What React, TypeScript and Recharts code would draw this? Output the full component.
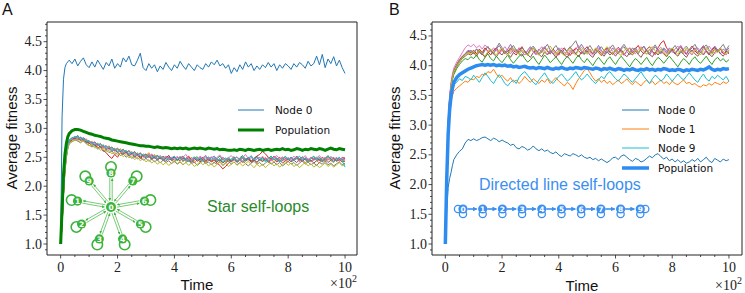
import { LineChart, Line, XAxis, YAxis, ReferenceArea } from "recharts";

// time in units of 10^2
const TIME = [
  0, 0.05, 0.1, 0.15, 0.2, 0.25, 0.3,
  0.4, 0.5, 0.6, 0.7, 0.8, 0.9,
  1.0, 1.1, 1.2, 1.3, 1.4, 1.5, 1.6, 1.7, 1.8, 1.9,
  2.0, 2.1, 2.2, 2.3, 2.4, 2.5, 2.6, 2.7, 2.8, 2.9,
  3.0, 3.1, 3.2, 3.3, 3.4, 3.5, 3.6, 3.7, 3.8, 3.9,
  4.0, 4.1, 4.2, 4.3, 4.4, 4.5, 4.6, 4.7, 4.8, 4.9,
  5.0, 5.1, 5.2, 5.3, 5.4, 5.5, 5.6, 5.7, 5.8, 5.9,
  6.0, 6.1, 6.2, 6.3, 6.4, 6.5, 6.6, 6.7, 6.8, 6.9,
  7.0, 7.1, 7.2, 7.3, 7.4, 7.5, 7.6, 7.7, 7.8, 7.9,
  8.0, 8.1, 8.2, 8.3, 8.4, 8.5, 8.6, 8.7, 8.8, 8.9,
  9.0, 9.1, 9.2, 9.3, 9.4, 9.5, 9.6, 9.7, 9.8, 9.9,
  10.0,
];

const X_TICKS = [0, 0.5, 1, 1.5, 2, 2.5, 3, 3.5, 4, 4.5, 5, 5.5, 6, 6.5, 7, 7.5, 8, 8.5, 9, 9.5, 10];
const Y_TICKS_A = [0.9, 1.0, 1.1, 1.2, 1.3, 1.4, 1.5, 1.6, 1.7, 1.8, 1.9, 2.0, 2.1, 2.2, 2.3, 2.4, 2.5, 2.6, 2.7, 2.8, 2.9, 3.0, 3.1, 3.2, 3.3, 3.4, 3.5, 3.6, 3.7, 3.8, 3.9, 4.0, 4.1, 4.2, 4.3, 4.4, 4.5, 4.6, 4.7, 4.8];
const Y_TICKS_B = [0.9, 1.0, 1.1, 1.2, 1.3, 1.4, 1.5, 1.6, 1.7, 1.8, 1.9, 2.0, 2.1, 2.2, 2.3, 2.4, 2.5, 2.6, 2.7, 2.8, 2.9, 3.0, 3.1, 3.2, 3.3, 3.4, 3.5, 3.6, 3.7, 3.8, 3.9, 4.0, 4.1, 4.2, 4.3, 4.4, 4.5, 4.6, 4.7];

// ---- panel A: star with self-loops ----
const A_NODE0 = [
  1.0, 3.2, 3.85, 4.05, 4.12, 4.15, 4.18,
  4.12, 4.2, 4.08, 4.16, 4.22, 4.1,
  4.05, 4.15, 4.06, 4.18, 4.1, 4.02, 4.14, 4.08, 4.2, 4.04,
  4.12, 4.06, 4.22, 4.15, 4.25, 4.1, 4.08, 4.18, 4.3, 4.05,
  4.0, 4.12, 4.04, 4.1, 3.98, 4.08, 4.02, 4.14, 4.06, 4.0,
  4.1, 4.04, 4.16, 4.08, 4.02, 4.12, 4.06, 4.0, 4.1, 4.05,
  4.02, 4.12, 4.06, 4.15, 4.1, 4.18, 4.08, 4.12, 4.04, 4.1,
  3.95, 4.05, 3.98, 4.1, 4.02, 4.15, 4.06, 4.12, 4.0, 4.08,
  4.02, 4.1, 4.05, 4.14, 4.06, 4.12, 4.0, 4.1, 4.04, 4.12,
  4.08, 4.02, 4.12, 4.06, 4.14, 4.1, 4.04, 4.16, 4.08, 4.12,
  4.25, 4.1, 4.28, 4.05, 4.2, 4.12, 4.24, 4.08, 4.18, 4.05,
  3.95,
];
const A_NODE1 = [
  1.0, 1.3, 1.85, 2.25, 2.5, 2.66, 2.75,
  2.8, 2.86, 2.8, 2.84, 2.78, 2.82,
  2.74, 2.78, 2.7, 2.75, 2.68, 2.72, 2.64, 2.7, 2.62, 2.66,
  2.6, 2.65, 2.58, 2.62, 2.55, 2.6, 2.54, 2.58, 2.5, 2.56,
  2.52, 2.58, 2.5, 2.55, 2.48, 2.53, 2.46, 2.52, 2.49, 2.44,
  2.5, 2.45, 2.52, 2.42, 2.48, 2.44, 2.5, 2.4, 2.46, 2.43,
  2.48, 2.42, 2.5, 2.45, 2.4, 2.47, 2.43, 2.49, 2.41, 2.46,
  2.44, 2.5, 2.42, 2.47, 2.4, 2.45, 2.49, 2.42, 2.46, 2.4,
  2.47, 2.42, 2.5, 2.44, 2.48, 2.41, 2.46, 2.43, 2.5, 2.44,
  2.42, 2.48, 2.44, 2.5, 2.43, 2.47, 2.4, 2.46, 2.42, 2.49,
  2.44, 2.4, 2.47, 2.42, 2.5, 2.44, 2.41, 2.48, 2.43, 2.46,
  2.42,
];
const A_NODE2 = [
  1.0, 1.38, 1.95, 2.35, 2.58, 2.72, 2.8,
  2.84, 2.82, 2.88, 2.8, 2.83, 2.76,
  2.79, 2.72, 2.76, 2.7, 2.74, 2.66, 2.7, 2.64, 2.68, 2.62,
  2.66, 2.6, 2.64, 2.57, 2.62, 2.56, 2.6, 2.53, 2.58, 2.52,
  2.56, 2.5, 2.55, 2.49, 2.54, 2.47, 2.52, 2.48, 2.53, 2.46,
  2.5, 2.44, 2.49, 2.52, 2.45, 2.5, 2.43, 2.48, 2.51, 2.45,
  2.49, 2.53, 2.46, 2.5, 2.44, 2.48, 2.52, 2.45, 2.49, 2.43,
  2.47, 2.51, 2.44, 2.49, 2.53, 2.46, 2.5, 2.43, 2.48, 2.52,
  2.45, 2.5, 2.44, 2.48, 2.52, 2.46, 2.49, 2.43, 2.47, 2.51,
  2.46, 2.5, 2.44, 2.49, 2.45, 2.51, 2.47, 2.43, 2.48, 2.52,
  2.46, 2.5, 2.44, 2.48, 2.53, 2.46, 2.5, 2.44, 2.49, 2.45,
  2.47,
];
const A_NODE3 = [
  1.0, 1.32, 1.88, 2.28, 2.53, 2.68, 2.77,
  2.81, 2.83, 2.8, 2.85, 2.79, 2.77,
  2.75, 2.7, 2.73, 2.66, 2.69, 2.62, 2.58, 2.52, 2.48, 2.55,
  2.5, 2.58, 2.55, 2.6, 2.52, 2.56, 2.5, 2.54, 2.48, 2.52,
  2.5, 2.55, 2.47, 2.52, 2.46, 2.5, 2.44, 2.49, 2.53, 2.47,
  2.51, 2.46, 2.5, 2.44, 2.48, 2.52, 2.45, 2.49, 2.43, 2.47,
  2.5, 2.44, 2.48, 2.42, 2.46, 2.4, 2.36, 2.3, 2.34, 2.4,
  2.44, 2.48, 2.42, 2.47, 2.5, 2.45, 2.49, 2.43, 2.48, 2.52,
  2.55, 2.6, 2.56, 2.5, 2.47, 2.52, 2.46, 2.5, 2.44, 2.48,
  2.45, 2.5, 2.46, 2.52, 2.47, 2.43, 2.49, 2.45, 2.5, 2.46,
  2.48, 2.44, 2.5, 2.46, 2.52, 2.47, 2.43, 2.49, 2.45, 2.5,
  2.48,
];
const A_NODE4 = [
  1.0, 1.36, 1.92, 2.32, 2.56, 2.71, 2.79,
  2.83, 2.85, 2.86, 2.81, 2.84, 2.8,
  2.78, 2.74, 2.77, 2.71, 2.73, 2.67, 2.7, 2.65, 2.67, 2.61,
  2.64, 2.6, 2.63, 2.58, 2.61, 2.55, 2.59, 2.54, 2.57, 2.52,
  2.55, 2.5, 2.53, 2.48, 2.52, 2.47, 2.51, 2.46, 2.5, 2.48,
  2.45, 2.5, 2.47, 2.52, 2.46, 2.49, 2.43, 2.48, 2.45, 2.5,
  2.46, 2.51, 2.45, 2.49, 2.52, 2.47, 2.44, 2.5, 2.46, 2.48,
  2.43, 2.47, 2.51, 2.46, 2.42, 2.48, 2.45, 2.5, 2.44, 2.47,
  2.5, 2.45, 2.48, 2.43, 2.47, 2.51, 2.46, 2.42, 2.48, 2.45,
  2.49, 2.44, 2.47, 2.52, 2.46, 2.5, 2.45, 2.48, 2.43, 2.47,
  2.5, 2.46, 2.43, 2.48, 2.45, 2.51, 2.47, 2.44, 2.49, 2.46,
  2.5,
];
const A_NODE5 = [
  1.0, 1.33, 1.87, 2.27, 2.52, 2.67, 2.76,
  2.8, 2.82, 2.83, 2.79, 2.81, 2.76,
  2.74, 2.76, 2.7, 2.72, 2.67, 2.69, 2.63, 2.66, 2.6, 2.63,
  2.58, 2.61, 2.56, 2.59, 2.53, 2.57, 2.51, 2.55, 2.5, 2.53,
  2.48, 2.52, 2.46, 2.5, 2.45, 2.49, 2.47, 2.43, 2.48, 2.45,
  2.42, 2.47, 2.44, 2.49, 2.43, 2.46, 2.41, 2.45, 2.48, 2.42,
  2.46, 2.41, 2.45, 2.43, 2.48, 2.42, 2.46, 2.4, 2.44, 2.47,
  2.42, 2.46, 2.41, 2.45, 2.48, 2.43, 2.47, 2.41, 2.45, 2.42,
  2.46, 2.43, 2.47, 2.41, 2.45, 2.48, 2.42, 2.46, 2.4, 2.44,
  2.47, 2.42, 2.45, 2.41, 2.46, 2.43, 2.48, 2.42, 2.45, 2.4,
  2.44, 2.47, 2.42, 2.46, 2.41, 2.45, 2.48, 2.43, 2.46, 2.42,
  2.44,
];
const A_NODE6 = [
  1.0, 1.34, 1.9, 2.31, 2.55, 2.7, 2.78,
  2.82, 2.8, 2.85, 2.83, 2.78, 2.81,
  2.76, 2.73, 2.75, 2.69, 2.72, 2.66, 2.68, 2.63, 2.66, 2.6,
  2.63, 2.58, 2.61, 2.56, 2.6, 2.54, 2.57, 2.52, 2.56, 2.5,
  2.53, 2.49, 2.56, 2.51, 2.47, 2.53, 2.48, 2.52, 2.46, 2.5,
  2.47, 2.52, 2.46, 2.5, 2.55, 2.48, 2.44, 2.5, 2.46, 2.52,
  2.48, 2.53, 2.47, 2.51, 2.45, 2.5, 2.54, 2.47, 2.43, 2.49,
  2.53, 2.47, 2.5, 2.44, 2.49, 2.55, 2.48, 2.52, 2.46, 2.5,
  2.47, 2.52, 2.46, 2.5, 2.44, 2.49, 2.53, 2.47, 2.51, 2.45,
  2.5, 2.46, 2.52, 2.47, 2.42, 2.48, 2.53, 2.46, 2.5, 2.44,
  2.49, 2.53, 2.47, 2.5, 2.45, 2.51, 2.46, 2.5, 2.44, 2.48,
  2.46,
];
const A_NODE7 = [
  1.0, 1.3, 1.84, 2.24, 2.49, 2.64, 2.73,
  2.77, 2.8, 2.78, 2.75, 2.79, 2.74,
  2.71, 2.68, 2.7, 2.64, 2.67, 2.6, 2.63, 2.58, 2.61, 2.55,
  2.58, 2.53, 2.56, 2.5, 2.54, 2.48, 2.52, 2.47, 2.5, 2.45,
  2.48, 2.43, 2.47, 2.42, 2.46, 2.4, 2.45, 2.41, 2.44, 2.39,
  2.43, 2.38, 2.42, 2.37, 2.41, 2.44, 2.39, 2.42, 2.36, 2.4,
  2.44, 2.39, 2.42, 2.37, 2.41, 2.38, 2.43, 2.36, 2.4, 2.44,
  2.38, 2.42, 2.37, 2.41, 2.44, 2.39, 2.35, 2.4, 2.43, 2.38,
  2.41, 2.36, 2.4, 2.44, 2.38, 2.42, 2.37, 2.41, 2.35, 2.39,
  2.43, 2.38, 2.41, 2.36, 2.4, 2.44, 2.38, 2.42, 2.37, 2.4,
  2.36, 2.41, 2.38, 2.43, 2.37, 2.4, 2.35, 2.39, 2.42, 2.37,
  2.4,
];
const A_NODE8 = [
  1.0, 1.31, 1.86, 2.26, 2.5, 2.65, 2.74,
  2.78, 2.79, 2.81, 2.76, 2.78, 2.73,
  2.7, 2.72, 2.66, 2.68, 2.62, 2.65, 2.59, 2.62, 2.56, 2.59,
  2.54, 2.57, 2.51, 2.55, 2.49, 2.52, 2.46, 2.5, 2.44, 2.48,
  2.42, 2.46, 2.4, 2.44, 2.38, 2.42, 2.37, 2.41, 2.36, 2.4,
  2.44, 2.39, 2.43, 2.37, 2.41, 2.36, 2.4, 2.34, 2.38, 2.42,
  2.37, 2.41, 2.35, 2.39, 2.33, 2.38, 2.42, 2.36, 2.4, 2.34,
  2.38, 2.42, 2.36, 2.4, 2.35, 2.39, 2.43, 2.37, 2.32, 2.38,
  2.34, 2.38, 2.32, 2.37, 2.41, 2.35, 2.39, 2.33, 2.37, 2.41,
  2.36, 2.4, 2.34, 2.38, 2.32, 2.37, 2.41, 2.35, 2.39, 2.33,
  2.37, 2.32, 2.36, 2.4, 2.34, 2.38, 2.33, 2.37, 2.41, 2.35,
  2.38,
];
const A_NODE9 = [
  1.0, 1.37, 1.93, 2.33, 2.57, 2.71, 2.79,
  2.83, 2.86, 2.83, 2.85, 2.81, 2.79,
  2.77, 2.75, 2.72, 2.74, 2.69, 2.71, 2.65, 2.68, 2.62, 2.65,
  2.6, 2.63, 2.58, 2.62, 2.55, 2.59, 2.53, 2.57, 2.52, 2.55,
  2.5, 2.54, 2.49, 2.53, 2.47, 2.51, 2.46, 2.5, 2.45, 2.49,
  2.52, 2.46, 2.5, 2.44, 2.48, 2.42, 2.47, 2.51, 2.45, 2.49,
  2.43, 2.47, 2.51, 2.45, 2.5, 2.44, 2.48, 2.42, 2.46, 2.5,
  2.45, 2.49, 2.43, 2.47, 2.51, 2.44, 2.48, 2.53, 2.46, 2.5,
  2.44, 2.48, 2.42, 2.47, 2.51, 2.45, 2.49, 2.43, 2.47, 2.52,
  2.46, 2.5, 2.44, 2.48, 2.52, 2.45, 2.49, 2.43, 2.47, 2.51,
  2.45, 2.49, 2.43, 2.48, 2.52, 2.46, 2.42, 2.47, 2.5, 2.44,
  2.33,
];
const A_POP = [
  1.0, 1.6, 2.2, 2.55, 2.74, 2.85, 2.91,
  2.96, 2.98, 2.98, 2.97, 2.95, 2.93,
  2.91, 2.9, 2.88, 2.87, 2.86, 2.84, 2.83, 2.82, 2.8, 2.79,
  2.78, 2.77, 2.76, 2.75, 2.74, 2.73, 2.72, 2.71, 2.7, 2.7,
  2.69, 2.69, 2.68, 2.67, 2.68, 2.67, 2.66, 2.67, 2.66, 2.65,
  2.66, 2.65, 2.66, 2.65, 2.66, 2.64, 2.65, 2.66, 2.65, 2.66,
  2.65, 2.64, 2.66, 2.65, 2.64, 2.65, 2.63, 2.64, 2.63, 2.62,
  2.62, 2.63, 2.62, 2.64, 2.63, 2.62, 2.64, 2.63, 2.62, 2.63,
  2.64, 2.62, 2.63, 2.64, 2.62, 2.63, 2.64, 2.63, 2.65, 2.63,
  2.64, 2.62, 2.63, 2.65, 2.64, 2.62, 2.64, 2.63, 2.65, 2.64,
  2.63, 2.65, 2.64, 2.62, 2.64, 2.66, 2.64, 2.63, 2.65, 2.64,
  2.63,
];

// ---- panel B: directed line with self-loops ----
const B_NODE0 = [
  1.0, 1.6, 1.95, 2.1, 2.2, 2.32, 2.42,
  2.5, 2.56, 2.6, 2.7, 2.76, 2.74,
  2.77, 2.74, 2.76, 2.79, 2.8, 2.77, 2.74, 2.78, 2.76, 2.72,
  2.75, 2.72, 2.7, 2.66, 2.68, 2.62, 2.6, 2.64, 2.62, 2.58,
  2.6, 2.65, 2.6, 2.57, 2.6, 2.56, 2.58, 2.54, 2.52, 2.55,
  2.5, 2.47, 2.52, 2.5, 2.48, 2.52, 2.5, 2.47, 2.5, 2.46,
  2.44, 2.46, 2.42, 2.44, 2.4, 2.43, 2.4, 2.37, 2.4, 2.45,
  2.46, 2.42, 2.48, 2.5, 2.46, 2.42, 2.39, 2.44, 2.42, 2.38,
  2.4, 2.44, 2.48, 2.45, 2.5, 2.52, 2.47, 2.43, 2.46, 2.4,
  2.43, 2.38, 2.42, 2.37, 2.4, 2.36, 2.38, 2.42, 2.39, 2.44,
  2.38, 2.42, 2.46, 2.4, 2.37, 2.44, 2.41, 2.38, 2.43, 2.4,
  2.42,
];
const B_NODE1 = [
  1.0, 2.0, 2.8, 3.2, 3.4, 3.5, 3.57,
  3.62, 3.66, 3.7, 3.74, 3.72, 3.78,
  3.76, 3.82, 3.8, 3.86, 3.84, 3.9, 3.88, 3.94, 3.86, 3.8,
  3.84, 3.78, 3.74, 3.8, 3.72, 3.76, 3.7, 3.75, 3.82, 3.76,
  3.72, 3.78, 3.74, 3.7, 3.76, 3.72, 3.78, 3.7, 3.75, 3.8,
  3.74, 3.7, 3.66, 3.72, 3.68, 3.6, 3.7, 3.78, 3.85, 3.92,
  3.95, 3.88, 3.8, 3.74, 3.78, 3.72, 3.76, 3.7, 3.74, 3.68,
  3.72, 3.76, 3.7, 3.73, 3.78, 3.72, 3.68, 3.74, 3.7, 3.66,
  3.72, 3.76, 3.7, 3.74, 3.68, 3.72, 3.76, 3.7, 3.73, 3.68,
  3.74, 3.7, 3.68, 3.72, 3.76, 3.7, 3.72, 3.68, 3.7, 3.66,
  3.64, 3.68, 3.66, 3.7, 3.67, 3.72, 3.7, 3.68, 3.73, 3.7,
  3.74,
];
const B_NODE2 = [
  1.0, 2.2, 3.0, 3.4, 3.62, 3.76, 3.85,
  3.95, 4.02, 4.08, 4.12, 4.1, 4.15,
  4.12, 4.18, 4.1, 4.06, 4.14, 4.2, 4.12, 4.08, 4.16, 4.1,
  4.05, 4.12, 4.18, 4.1, 4.04, 4.1, 4.16, 4.2, 4.12, 4.06,
  4.1, 4.16, 4.08, 4.02, 4.1, 4.18, 4.12, 4.05, 4.1, 4.15,
  4.08, 4.02, 4.1, 4.16, 4.1, 4.04, 4.12, 4.18, 4.1, 4.05,
  4.12, 4.06, 4.0, 4.08, 4.14, 4.08, 4.02, 4.1, 4.15, 4.08,
  4.02, 4.1, 4.16, 4.1, 4.04, 3.98, 4.06, 4.12, 4.08, 4.02,
  4.08, 4.14, 4.06, 4.0, 4.08, 4.14, 4.1, 4.04, 4.1, 4.16,
  4.1, 4.04, 3.98, 4.06, 4.12, 4.08, 4.02, 4.1, 4.15, 4.08,
  4.04, 4.1, 4.16, 4.08, 4.02, 4.1, 4.14, 4.08, 4.12, 4.06,
  4.1,
];
const B_NODE3 = [
  1.0, 2.3, 3.05, 3.45, 3.68, 3.82, 3.92,
  4.02, 4.1, 4.16, 4.2, 4.24, 4.22,
  4.26, 4.2, 4.28, 4.22, 4.3, 4.24, 4.18, 4.26, 4.3, 4.22,
  4.28, 4.2, 4.24, 4.3, 4.22, 4.18, 4.26, 4.32, 4.24, 4.2,
  4.26, 4.3, 4.22, 4.18, 4.25, 4.3, 4.24, 4.2, 4.28, 4.22,
  4.18, 4.26, 4.3, 4.22, 4.17, 4.24, 4.3, 4.25, 4.2, 4.27,
  4.32, 4.24, 4.2, 4.28, 4.22, 4.17, 4.25, 4.3, 4.23, 4.19,
  4.26, 4.31, 4.24, 4.18, 4.25, 4.3, 4.22, 4.28, 4.34, 4.25,
  4.2, 4.27, 4.32, 4.24, 4.2, 4.3, 4.38, 4.42, 4.3, 4.24,
  4.28, 4.2, 4.26, 4.32, 4.24, 4.19, 4.27, 4.33, 4.25, 4.2,
  4.27, 4.32, 4.24, 4.18, 4.26, 4.31, 4.23, 4.28, 4.2, 4.25,
  4.22,
];
const B_NODE4 = [
  1.0, 2.25, 3.02, 3.42, 3.66, 3.8, 3.9,
  4.0, 4.08, 4.14, 4.2, 4.26, 4.24,
  4.2, 4.28, 4.22, 4.18, 4.26, 4.32, 4.24, 4.2, 4.28, 4.34,
  4.26, 4.2, 4.28, 4.36, 4.26, 4.22, 4.3, 4.24, 4.18, 4.26,
  4.32, 4.24, 4.2, 4.28, 4.22, 4.3, 4.36, 4.26, 4.2, 4.24,
  4.3, 4.22, 4.18, 4.26, 4.32, 4.24, 4.2, 4.28, 4.36, 4.28,
  4.22, 4.28, 4.2, 4.26, 4.34, 4.26, 4.2, 4.28, 4.22, 4.3,
  4.24, 4.2, 4.28, 4.32, 4.24, 4.18, 4.26, 4.3, 4.22, 4.27,
  4.32, 4.24, 4.18, 4.26, 4.32, 4.25, 4.2, 4.28, 4.22, 4.3,
  4.25, 4.2, 4.28, 4.34, 4.26, 4.2, 4.28, 4.24, 4.3, 4.22,
  4.28, 4.34, 4.25, 4.2, 4.28, 4.33, 4.26, 4.2, 4.28, 4.24,
  4.3,
];
const B_NODE5 = [
  1.0, 2.2, 3.0, 3.4, 3.64, 3.78, 3.88,
  3.98, 4.06, 4.12, 4.16, 4.2, 4.18,
  4.22, 4.16, 4.24, 4.2, 4.14, 4.22, 4.26, 4.2, 4.15, 4.22,
  4.18, 4.25, 4.2, 4.14, 4.22, 4.27, 4.2, 4.16, 4.24, 4.19,
  4.14, 4.22, 4.26, 4.19, 4.15, 4.23, 4.18, 4.25, 4.2, 4.14,
  4.21, 4.26, 4.18, 4.14, 4.22, 4.27, 4.2, 4.15, 4.23, 4.19,
  4.25, 4.18, 4.14, 4.22, 4.26, 4.2, 4.16, 4.24, 4.18, 4.22,
  4.16, 4.23, 4.27, 4.2, 4.15, 4.22, 4.18, 4.25, 4.19, 4.14,
  4.22, 4.26, 4.19, 4.15, 4.23, 4.18, 4.24, 4.2, 4.15, 4.22,
  4.27, 4.2, 4.16, 4.24, 4.19, 4.14, 4.22, 4.26, 4.2, 4.16,
  4.23, 4.18, 4.25, 4.2, 4.15, 4.22, 4.27, 4.2, 4.16, 4.24,
  4.2,
];
const B_NODE6 = [
  1.0, 2.35, 3.1, 3.5, 3.72, 3.86, 3.96,
  4.06, 4.14, 4.22, 4.3, 4.35, 4.32,
  4.36, 4.3, 4.34, 4.28, 4.35, 4.3, 4.24, 4.3, 4.26, 4.2,
  4.26, 4.32, 4.25, 4.2, 4.28, 4.22, 4.3, 4.24, 4.18, 4.25,
  4.3, 4.23, 4.18, 4.26, 4.32, 4.24, 4.2, 4.27, 4.22, 4.17,
  4.24, 4.3, 4.22, 4.18, 4.26, 4.2, 4.28, 4.34, 4.26, 4.2,
  4.27, 4.22, 4.18, 4.26, 4.3, 4.23, 4.19, 4.26, 4.32, 4.24,
  4.2, 4.28, 4.22, 4.17, 4.25, 4.3, 4.24, 4.2, 4.27, 4.32,
  4.25, 4.2, 4.28, 4.22, 4.18, 4.26, 4.31, 4.24, 4.2, 4.27,
  4.22, 4.28, 4.33, 4.26, 4.2, 4.27, 4.22, 4.18, 4.26, 4.3,
  4.24, 4.2, 4.27, 4.33, 4.26, 4.2, 4.25, 4.3, 4.22, 4.18,
  4.26,
];
const B_NODE7 = [
  1.0, 2.28, 3.04, 3.44, 3.67, 3.81, 3.91,
  4.01, 4.09, 4.15, 4.2, 4.22, 4.26,
  4.22, 4.28, 4.24, 4.2, 4.27, 4.32, 4.26, 4.22, 4.3, 4.38,
  4.3, 4.24, 4.2, 4.28, 4.34, 4.26, 4.22, 4.3, 4.25, 4.2,
  4.28, 4.33, 4.26, 4.2, 4.27, 4.32, 4.25, 4.2, 4.28, 4.34,
  4.26, 4.21, 4.28, 4.24, 4.3, 4.36, 4.42, 4.3, 4.24, 4.2,
  4.28, 4.34, 4.26, 4.2, 4.27, 4.32, 4.25, 4.21, 4.29, 4.35,
  4.27, 4.22, 4.3, 4.36, 4.28, 4.22, 4.3, 4.25, 4.2, 4.28,
  4.33, 4.26, 4.21, 4.29, 4.35, 4.27, 4.22, 4.3, 4.25, 4.2,
  4.28, 4.34, 4.26, 4.21, 4.28, 4.33, 4.25, 4.3, 4.36, 4.27,
  4.22, 4.3, 4.35, 4.27, 4.21, 4.29, 4.24, 4.3, 4.36, 4.26,
  4.34,
];
const B_NODE8 = [
  1.0, 2.24, 3.02, 3.42, 3.65, 3.79, 3.89,
  3.99, 4.07, 4.13, 4.18, 4.22, 4.2,
  4.24, 4.18, 4.26, 4.21, 4.16, 4.24, 4.28, 4.22, 4.18, 4.26,
  4.3, 4.22, 4.17, 4.25, 4.3, 4.24, 4.19, 4.27, 4.22, 4.17,
  4.25, 4.3, 4.23, 4.18, 4.26, 4.21, 4.28, 4.33, 4.25, 4.19,
  4.26, 4.21, 4.17, 4.25, 4.3, 4.22, 4.18, 4.26, 4.31, 4.24,
  4.19, 4.27, 4.22, 4.3, 4.24, 4.18, 4.26, 4.32, 4.25, 4.2,
  4.27, 4.21, 4.17, 4.25, 4.3, 4.23, 4.19, 4.27, 4.22, 4.3,
  4.24, 4.19, 4.27, 4.32, 4.25, 4.2, 4.28, 4.22, 4.17, 4.25,
  4.3, 4.24, 4.19, 4.27, 4.22, 4.3, 4.25, 4.2, 4.27, 4.23,
  4.18, 4.26, 4.31, 4.24, 4.19, 4.27, 4.22, 4.29, 4.24, 4.2,
  4.27,
];
const B_NODE9 = [
  1.0, 2.1, 2.9, 3.3, 3.5, 3.6, 3.68,
  3.72, 3.78, 3.75, 3.82, 3.8, 3.76,
  3.84, 3.78, 3.72, 3.8, 3.88, 3.82, 3.75, 3.7, 3.78, 3.85,
  3.78, 3.7, 3.66, 3.72, 3.76, 3.7, 3.8, 3.86, 3.9, 3.84,
  3.78, 3.72, 3.68, 3.76, 3.82, 3.88, 3.8, 3.74, 3.7, 3.76,
  3.82, 3.86, 3.8, 3.74, 3.78, 3.84, 3.9, 3.82, 3.76, 3.8,
  3.86, 3.8, 3.74, 3.7, 3.76, 3.82, 3.78, 3.86, 3.9, 3.84,
  3.78, 3.74, 3.8, 3.86, 3.82, 3.76, 3.72, 3.78, 3.84, 3.9,
  3.82, 3.76, 3.7, 3.78, 3.84, 3.8, 3.74, 3.78, 3.86, 3.8,
  3.74, 3.8, 3.86, 3.8, 3.76, 3.82, 3.88, 3.82, 3.76, 3.72,
  3.8, 3.86, 3.78, 3.74, 3.82, 3.78, 3.84, 3.8, 3.76, 3.82,
  3.74,
];
const B_POP = [
  1.0, 2.1, 2.85, 3.25, 3.48, 3.62, 3.72,
  3.8, 3.85, 3.88, 3.91, 3.94, 3.96,
  3.98, 4.0, 4.01, 4.02, 4.01, 4.02, 4.01, 4.02, 4.0, 4.01,
  4.0, 4.01, 3.99, 4.0, 3.98, 3.99, 3.97, 3.98, 3.99, 3.97,
  3.96, 3.97, 3.95, 3.97, 3.96, 3.95, 3.97, 3.95, 3.94, 3.96,
  3.95, 3.97, 3.95, 3.94, 3.96, 3.95, 3.97, 3.96, 3.95, 3.97,
  3.96, 3.95, 3.94, 3.96, 3.95, 3.93, 3.95, 3.94, 3.96, 3.94,
  3.93, 3.95, 3.94, 3.92, 3.94, 3.93, 3.95, 3.93, 3.92, 3.94,
  3.93, 3.95, 3.93, 3.94, 3.92, 3.94, 3.93, 3.95, 3.94, 3.92,
  3.93, 3.92, 3.94, 3.93, 3.91, 3.93, 3.92, 3.94, 3.93, 3.92,
  3.94, 3.93, 3.95, 3.98, 3.94, 3.92, 3.94, 3.93, 3.95, 3.94,
  3.95,
];

const TAB10 = ["#1f77b4", "#ff7f0e", "#2ca02c", "#d62728", "#9467bd", "#8c564b", "#e377c2", "#7f7f7f", "#bcbd22", "#17becf"];
const A_NODES = [A_NODE0, A_NODE1, A_NODE2, A_NODE3, A_NODE4, A_NODE5, A_NODE6, A_NODE7, A_NODE8, A_NODE9];
const B_NODES = [B_NODE0, B_NODE1, B_NODE2, B_NODE3, B_NODE4, B_NODE5, B_NODE6, B_NODE7, B_NODE8, B_NODE9];

const rowsA = TIME.map((t, i) => {
  const r: any = { t, pop: A_POP[i] };
  A_NODES.forEach((s, k) => (r["n" + k] = s[i]));
  return r;
});
const rowsB = TIME.map((t, i) => {
  const r: any = { t, pop: B_POP[i] };
  B_NODES.forEach((s, k) => (r["n" + k] = s[i]));
  return r;
});

const INK = "#222";
const SERIF = "'Liberation Serif', serif";
const SANS = "'Liberation Sans', Arial, sans-serif";
const DJV = "'DejaVu Sans', sans-serif";

const isMajorX = (v: number) => Math.abs(v / 2 - Math.round(v / 2)) < 1e-6;
const isMajorY = (v: number) => Math.abs(v * 2 - Math.round(v * 2)) < 1e-6;

const XTick = (props: any) => {
  const { x, y, payload } = props;
  const major = isMajorX(payload.value);
  return (
    <g>
      <line x1={x} x2={x} y1={y} y2={y + (major ? 3.5 : 2)} stroke={INK} strokeWidth={0.8} />
      {major && (
        <text x={x} y={y + 17} textAnchor="middle" fontFamily={SERIF} fontSize={14} fill={INK}>
          {payload.value}
        </text>
      )}
    </g>
  );
};

const YTick = (props: any) => {
  const { x, y, payload } = props;
  const major = isMajorY(payload.value);
  return (
    <g>
      <line x1={x} x2={x - (major ? 3.5 : 2)} y1={y} y2={y} stroke={INK} strokeWidth={0.8} />
      {major && (
        <text x={x - 5} y={y + 4.5} textAnchor="end" fontFamily={SERIF} fontSize={14} fill={INK}>
          {payload.value.toFixed(1)}
        </text>
      )}
    </g>
  );
};

function Panel({ rows, xDomain, yDomain, yTicks, popColor, popWidth, width, margin, yWidth }: any) {
  return (
    <LineChart width={width} height={293} data={rows} margin={margin}>
      <XAxis dataKey="t" type="number" domain={xDomain} allowDataOverflow ticks={X_TICKS} interval={0}
        tick={XTick} tickLine={false} axisLine={false} tickSize={0} tickMargin={0} height={30} />
      <YAxis type="number" domain={yDomain} allowDataOverflow ticks={yTicks} interval={0}
        tick={YTick} tickLine={false} axisLine={false} tickSize={0} tickMargin={0} width={yWidth} />
      <ReferenceArea x1={xDomain[0]} x2={xDomain[1]} y1={yDomain[0]} y2={yDomain[1]}
        fill="none" stroke={INK} strokeWidth={1} fillOpacity={0} />
      {TAB10.map((c, k) => (
        <Line key={k} dataKey={"n" + k} type="linear" stroke={c} strokeWidth={1}
          dot={false} activeDot={false} isAnimationActive={false} />
      ))}
      <Line dataKey="pop" type="linear" stroke={popColor} strokeWidth={popWidth}
        dot={false} activeDot={false} isAnimationActive={false} />
    </LineChart>
  );
}

const STAR_OUTER = [1, 2, 3, 4, 5, 6, 7, 8, 9];
const LINE_NODES = [0, 1, 2, 3, 4, 5, 6, 7, 8, 9];

function StarInset({ cx, cy }: { cx: number; cy: number }) {
  const col = "#3cb43c";
  const r = 34;
  return (
    <g>
      {STAR_OUTER.map((k) => {
        const a = ((-90 + (8 - k) * 40) * Math.PI) / 180;
        const ux = Math.cos(a), uy = Math.sin(a);
        const px = -uy * 1.2, py = ux * 1.2;
        const nx = cx + r * ux, ny = cy + r * uy;
        return (
          <g key={k}>
            <line x1={cx + 6 * ux + px} y1={cy + 6 * uy + py} x2={nx - 5.5 * ux + px} y2={ny - 5.5 * uy + py}
              stroke={col} strokeWidth={0.7} markerEnd="url(#arrG)" />
            <line x1={nx - 5 * ux - px} y1={ny - 5 * uy - py} x2={cx + 6.5 * ux - px} y2={cy + 6.5 * uy - py}
              stroke={col} strokeWidth={0.7} markerEnd="url(#arrG)" />
            <circle cx={cx + (r + 6) * ux} cy={cy + (r + 6) * uy} r={5.2} fill="none" stroke={col} strokeWidth={1.6} />
            <circle cx={nx} cy={ny} r={4.6} fill={col} />
            <text x={nx} y={ny + 2.6} textAnchor="middle" fontFamily={DJV} fontSize={7.5} fontWeight="bold" fill="#fff">{k}</text>
          </g>
        );
      })}
      <circle cx={cx} cy={cy} r={5} fill={col} />
      <text x={cx} y={cy + 2.6} textAnchor="middle" fontFamily={DJV} fontSize={7.5} fontWeight="bold" fill="#fff">0</text>
    </g>
  );
}

function LineInset({ x0, y, step }: { x0: number; y: number; step: number }) {
  const col = "#3b8ff0";
  return (
    <g>
      {LINE_NODES.map((k) => {
        const x = x0 + k * step;
        return (
          <g key={k}>
            {k < 9 && (
              <line x1={x + 4.5} y1={y} x2={x + step - 6} y2={y} stroke={col} strokeWidth={1.6} markerEnd="url(#arrB)" />
            )}
            <circle cx={x} cy={y + 5} r={3.6} fill="none" stroke={col} strokeWidth={1.3} />
            {k === 0 && <circle cx={x - 5} cy={y} r={3.6} fill="none" stroke={col} strokeWidth={1.3} />}
            {k === 9 && <circle cx={x + 5} cy={y} r={3.6} fill="none" stroke={col} strokeWidth={1.3} />}
            <circle cx={x} cy={y} r={4.6} fill={col} />
            <text x={x} y={y + 2.6} textAnchor="middle" fontFamily={DJV} fontSize={7.5} fontWeight="bold" fill="#fff">{k}</text>
          </g>
        );
      })}
    </g>
  );
}

function Overlay() {
  return (
    <svg width={745} height={293} style={{ position: "absolute", left: 0, top: 0, pointerEvents: "none" }}>
      <defs>
        <marker id="arrG" markerWidth="4" markerHeight="4" refX="3.5" refY="2" orient="auto">
          <path d="M0,0 L4,2 L0,4 z" fill="#3cb43c" />
        </marker>
        <marker id="arrB" markerWidth="3" markerHeight="3" refX="2.5" refY="1.5" orient="auto">
          <path d="M0,0 L3,1.5 L0,3 z" fill="#3b8ff0" />
        </marker>
      </defs>
      {/* panel letters */}
      <text x={2} y={15} fontFamily={SANS} fontSize={16} fill="#111">A</text>
      <text x={389} y={15} fontFamily={SANS} fontSize={16} fill="#111">B</text>

      {/* axis titles */}
      <text x={197} y={290} textAnchor="middle" fontFamily={SANS} fontSize={15} fill="#111">Time</text>
      <text x={582} y={291} textAnchor="middle" fontFamily={SANS} fontSize={15} fill="#111">Time</text>
      <text transform="translate(17,138) rotate(-90)" textAnchor="middle" fontFamily={SANS} fontSize={15} fill="#111">Average fitness</text>
      <text transform="translate(400,138) rotate(-90)" textAnchor="middle" fontFamily={SANS} fontSize={15} fill="#111">Average fitness</text>
      <text x={330} y={288} fontFamily={SERIF} fontSize={14} fill={INK}>×10<tspan dy={-6} fontSize={10}>2</tspan></text>
      <text x={715} y={290} fontFamily={SERIF} fontSize={14} fill={INK}>×10<tspan dy={-6} fontSize={10}>2</tspan></text>

      {/* legend A */}
      <line x1={238} x2={264} y1={110} y2={110} stroke={TAB10[0]} strokeWidth={1} />
      <text x={275} y={114} fontFamily={DJV} fontSize={10.5} fill="#111">Node 0</text>
      <line x1={238} x2={264} y1={130} y2={130} stroke="#008000" strokeWidth={3} />
      <text x={275} y={134} fontFamily={DJV} fontSize={10.5} fill="#111">Population</text>

      {/* legend B */}
      <line x1={622} x2={649} y1={110} y2={110} stroke={TAB10[0]} strokeWidth={1} />
      <text x={658} y={114} fontFamily={DJV} fontSize={10.5} fill="#111">Node 0</text>
      <line x1={622} x2={649} y1={129} y2={129} stroke={TAB10[1]} strokeWidth={1} />
      <text x={658} y={133} fontFamily={DJV} fontSize={10.5} fill="#111">Node 1</text>
      <line x1={622} x2={649} y1={148} y2={148} stroke={TAB10[9]} strokeWidth={1} />
      <text x={658} y={152} fontFamily={DJV} fontSize={10.5} fill="#111">Node 9</text>
      <line x1={622} x2={649} y1={168} y2={168} stroke="#2d8cf0" strokeWidth={3.5} />
      <text x={658} y={172} fontFamily={DJV} fontSize={10.5} fill="#111">Population</text>

      {/* annotations */}
      <text x={207} y={212} fontFamily={SANS} fontSize={16} fill="#2a8a2a">Star self-loops</text>
      <text x={479} y={190} fontFamily={SANS} fontSize={16} fill="#3b8ff0">Directed line self-loops</text>

      <StarInset cx={111} cy={207} />
      <LineInset x0={463} y={209} step={19.7} />
    </svg>
  );
}

export default function App() {
  return (
    <div style={{ position: "absolute", left: 0, top: 0, width: 745, height: 293, background: "#fff", overflow: "hidden" }}>
      <div style={{ position: "absolute", left: 0, top: 0 }}>
        <Panel rows={rowsA} xDomain={[-0.48, 10.42]} yDomain={[0.81, 4.84]} yTicks={Y_TICKS_A}
          popColor="#008000" popWidth={3} width={372} yWidth={40}
          margin={{ top: 22, right: 15, bottom: 8, left: 7 }} />
      </div>
      <div style={{ position: "absolute", left: 372, top: 0 }}>
        <Panel rows={rowsB} xDomain={[-0.47, 10.46]} yDomain={[0.815, 4.735]} yTicks={Y_TICKS_B}
          popColor="#2d8cf0" popWidth={3.5} width={373} yWidth={45}
          margin={{ top: 22, right: 3, bottom: 8, left: 15 }} />
      </div>
      <Overlay />
    </div>
  );
}
